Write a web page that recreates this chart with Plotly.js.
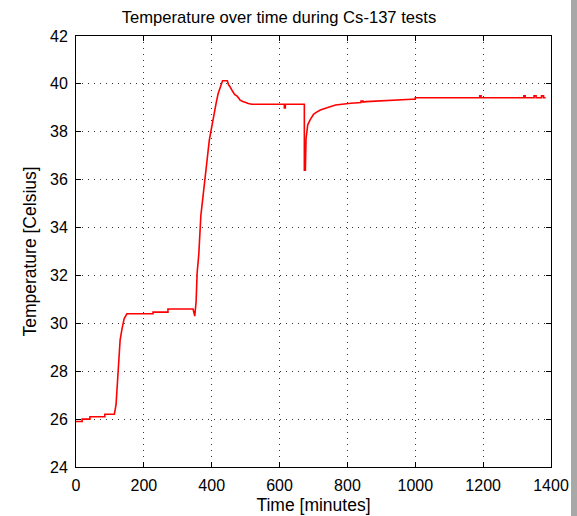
<!DOCTYPE html>
<html>
<head>
<meta charset="utf-8">
<script src="https://cdn.plot.ly/plotly-3.0.1.min.js"></script>
<style>html,body{margin:0;padding:0;background:#fff;}#chart{width:577px;height:516px;}</style>
</head>
<body>
<div id="chart"></div>
<script>
// Time in minutes (points of the logged temperature, steps given as repeated times)
const timeMinutes = [0, 18, 18, 41, 41, 85, 85, 113, 118, 121, 125, 130, 136, 142, 150, 227, 227, 271, 271, 345, 350, 354, 357, 362, 368, 375, 380, 387, 393, 400, 405, 413, 419, 426, 432, 446, 450, 454, 458, 462, 468, 474, 480, 483, 490, 498, 508, 518, 614, 614, 617, 617, 673, 673, 676, 678, 683, 690, 695, 700, 708, 720, 740, 765, 810, 840, 840, 846, 846, 855, 990, 1000, 1000, 1040, 1040, 1100, 1190, 1190, 1194, 1194, 1320, 1320, 1324, 1324, 1350, 1350, 1356, 1356, 1372, 1372, 1378, 1378, 1384];
// Temperature in Celsius at each point
const temperatureC = [25.9, 25.9, 26.0, 26.0, 26.1, 26.1, 26.2, 26.2, 26.6, 27.4, 28.5, 29.3, 29.8, 30.2, 30.4, 30.4, 30.47, 30.47, 30.6, 30.6, 30.3, 30.9, 32.1, 32.9, 34.5, 35.4, 36.0, 36.96, 37.66, 38.2, 38.63, 39.2, 39.6, 39.88, 40.13, 40.13, 39.95, 39.88, 39.75, 39.68, 39.55, 39.5, 39.4, 39.33, 39.27, 39.22, 39.18, 39.15, 39.15, 39.0, 39.0, 39.15, 39.15, 36.4, 36.4, 37.7, 38.29, 38.5, 38.63, 38.73, 38.81, 38.91, 39.0, 39.12, 39.19, 39.22, 39.28, 39.28, 39.24, 39.26, 39.36, 39.36, 39.42, 39.42, 39.4, 39.42, 39.42, 39.5, 39.5, 39.42, 39.42, 39.5, 39.5, 39.42, 39.42, 39.5, 39.5, 39.42, 39.42, 39.5, 39.5, 39.42, 39.42];

const xTicks = [0, 200, 400, 600, 800, 1000, 1200, 1400];
const yTicks = [24, 26, 28, 30, 32, 34, 36, 38, 40, 42];

const family = 'Liberation Sans, Arial, sans-serif';
const tickFont = {family: family, size: 16, color: '#000'};
const titleFont = {family: family, size: 16.6, color: '#000'};
const axisTitleFont = {family: family, size: 17.5, color: '#000'};

const trace = {
  x: timeMinutes,
  y: temperatureC,
  type: 'scatter',
  mode: 'lines',
  line: {color: '#ff0000', width: 1.6, shape: 'linear'},
  hoverinfo: 'skip'
};

const axisCommon = {
  showline: true, linecolor: '#000', linewidth: 1, mirror: 'ticks',
  ticks: 'inside', ticklen: 5, tickcolor: '#000', tickwidth: 1,
  showgrid: true, gridcolor: '#333', gridwidth: 1, griddash: '1px,5px',
  zeroline: false, tickfont: tickFont, fixedrange: true
};

const layout = {
  width: 577, height: 516,
  margin: {l: 76, r: 26, t: 36, b: 49, pad: 0},
  paper_bgcolor: '#fff', plot_bgcolor: '#fff',
  showlegend: false,
  font: tickFont,
  title: {text: 'Temperature over time during Cs-137 tests', font: titleFont,
          xref: 'paper', x: (279 - 76) / 475, xanchor: 'center', yref: 'container', y: 1 - 17/516, yanchor: 'middle'},
  xaxis: Object.assign({}, axisCommon, {
    range: [0, 1400], tickvals: xTicks, ticktext: xTicks.map(String),
    ticklabelstandoff: 4,
    title: {text: 'Time [minutes]', font: axisTitleFont, standoff: 5}
  }),
  yaxis: Object.assign({}, axisCommon, {
    range: [24, 42], tickvals: yTicks, ticktext: yTicks.map(String),
    ticklabelstandoff: 4,
    title: {text: 'Temperature [Celsius]', font: axisTitleFont, standoff: 8}
  }),
  shapes: [{
    type: 'rect', xref: 'paper', yref: 'paper',
    x0: (571 - 76) / 475, x1: (577 - 76) / 475, y0: -49 / 431, y1: 467 / 431,
    fillcolor: '#a8a8a8', line: {width: 0}, layer: 'above'
  }]
};

Plotly.newPlot('chart', [trace], layout, {displayModeBar: false, staticPlot: true});
</script>
</body>
</html>
